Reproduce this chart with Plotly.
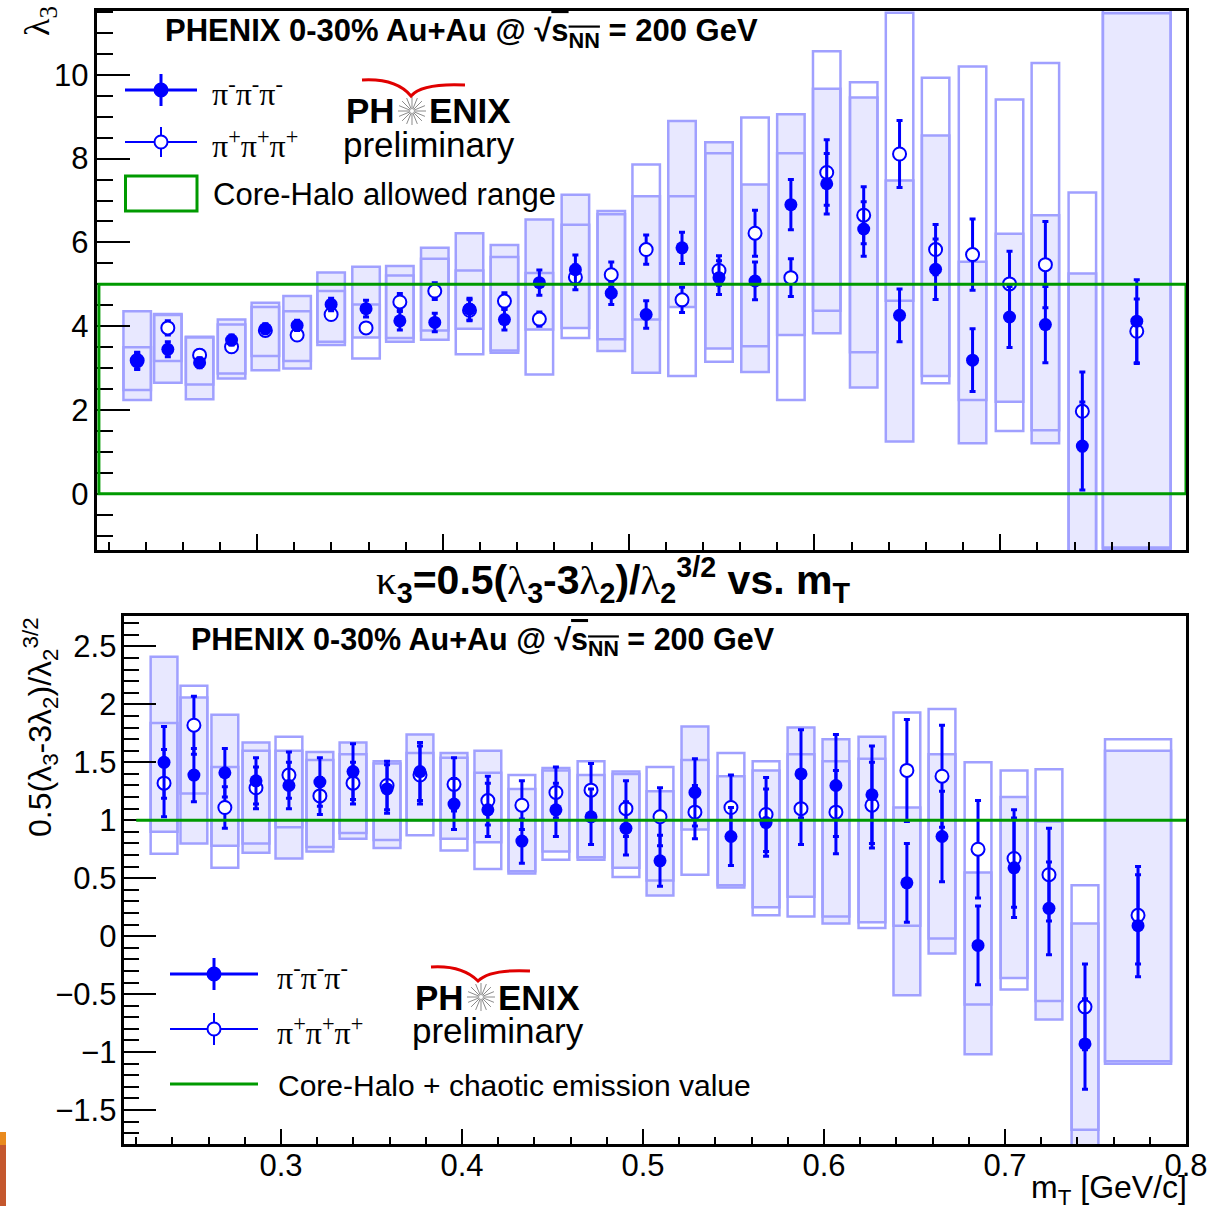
import math
import plotly.graph_objects as go

W, H = 1211, 1206

# ---------------- data ----------------
mt = [0.2354, 0.2519, 0.2690, 0.2862, 0.3044, 0.3215, 0.3398, 0.3586, 0.3768, 0.3956,
      0.4143, 0.4331, 0.4519, 0.4713, 0.4906, 0.5094, 0.5287, 0.5486, 0.5680, 0.5873,
      0.6066, 0.6265, 0.6458, 0.6652, 0.6851, 0.7050, 0.7243, 0.7442, 0.7735]
box_width = [0.0148] * 28 + [0.0365]

# lambda_3, pi- pi- pi- (filled)
l3_minus = [3.17, 3.45, 3.13, 3.67, 3.94, 4.02, 4.52, 4.42, 4.13, 4.09, 4.41, 4.16, 5.04, 5.35, 4.79,
            4.28, 5.87, 5.16, 5.08, 6.90, 7.40, 6.32, 4.26, 5.36, 3.19, 4.22, 4.04, 1.14, 4.12]
l3_minus_err = [0.20, 0.18, 0.12, 0.12, 0.12, 0.12, 0.15, 0.20, 0.22, 0.22, 0.26, 0.25, 0.30, 0.35, 0.27,
                0.33, 0.37, 0.40, 0.45, 0.60, 0.72, 0.65, 0.63, 0.72, 0.75, 0.73, 0.91, 1.05, 0.99]
l3_minus_sys_lo = [2.24, 2.65, 2.26, 2.75, 2.95, 2.99, 3.55, 3.73, 3.63, 3.68, 3.94, 3.37, 3.92, 3.96, 3.41,
                   2.89, 4.46, 3.47, 2.91, 3.79, 3.83, 2.54, 1.25, 2.81, 1.21, 2.20, 1.21, -1.45, -1.32]
l3_minus_sys_hi = [4.36, 4.29, 3.75, 4.16, 4.56, 4.72, 5.28, 5.42, 5.44, 5.87, 6.22, 5.94, 6.55, 7.14, 6.75,
                   7.10, 8.90, 8.39, 7.38, 9.06, 9.67, 9.46, 7.48, 8.55, 5.54, 6.21, 6.65, 5.26, 11.56]
# lambda_3, pi+ pi+ pi+ (open)
l3_plus = [3.18, 3.96, 3.31, 3.51, 3.90, 3.79, 4.28, 3.96, 4.58, 4.84, 4.38, 4.60, 4.17, 5.17, 5.23,
           5.83, 4.63, 5.33, 6.22, 5.16, 7.67, 6.65, 8.11, 5.83, 5.71, 5.01, 5.47, 1.97, 3.88]
l3_plus_err = [0.20, 0.17, 0.12, 0.12, 0.12, 0.12, 0.12, 0.12, 0.20, 0.20, 0.25, 0.20, 0.17, 0.30, 0.30,
               0.35, 0.30, 0.35, 0.55, 0.45, 0.78, 0.68, 0.80, 0.60, 0.85, 0.78, 1.03, 0.94, 0.77]
l3_plus_sys_lo = [2.48, 3.17, 2.61, 2.87, 3.29, 3.17, 3.63, 3.23, 3.72, 3.90, 3.33, 3.42, 2.85, 3.72, 3.69,
                  4.16, 2.81, 3.15, 3.52, 2.24, 4.37, 3.38, 4.61, 2.64, 2.24, 1.50, 1.52, -1.40, -1.28]
l3_plus_sys_hi = [3.50, 4.27, 3.73, 4.04, 4.46, 4.36, 4.84, 4.52, 5.21, 5.61, 5.33, 5.65, 5.27, 6.42, 6.67,
                  7.86, 7.10, 8.13, 8.98, 8.13, 10.56, 9.82, 11.48, 9.93, 10.20, 9.41, 10.28, 7.19, 11.47]

# kappa_3, pi- pi- pi- (filled)
k3_minus = [1.50, 1.39, 1.41, 1.34, 1.30, 1.33, 1.42, 1.27, 1.42, 1.14, 1.09, 0.82, 1.09, 1.03, 0.93,
            0.65, 1.24, 0.86, 0.98, 1.40, 1.30, 1.22, 0.46, 0.86, -0.08, 0.59, 0.24, -0.93, 0.09]
k3_minus_err = [0.31, 0.23, 0.21, 0.20, 0.20, 0.21, 0.24, 0.21, 0.25, 0.22, 0.23, 0.19, 0.23, 0.24, 0.23,
                0.22, 0.29, 0.25, 0.29, 0.38, 0.44, 0.42, 0.34, 0.39, 0.34, 0.43, 0.40, 0.39, 0.44]
k3_minus_sys_lo = [0.90, 0.80, 0.78, 0.72, 0.67, 0.73, 0.84, 0.76, 1.00, 0.84, 0.81, 0.54, 0.73, 0.66, 0.59,
                   0.35, 0.92, 0.42, 0.25, 0.34, 0.11, 0.12, -0.51, -0.15, -1.02, -0.36, -0.72, -1.90, -1.10]
k3_minus_sys_hi = [2.41, 2.06, 1.91, 1.67, 1.60, 1.59, 1.67, 1.51, 1.74, 1.58, 1.60, 1.27, 1.45, 1.39, 1.42,
                   1.25, 1.81, 1.38, 1.43, 1.80, 1.70, 1.72, 1.11, 1.57, 0.55, 1.20, 0.99, 0.11, 1.60]
# kappa_3, pi+ pi+ pi+ (open)
k3_plus = [1.32, 1.82, 1.11, 1.28, 1.39, 1.21, 1.32, 1.30, 1.39, 1.31, 1.17, 1.13, 1.24, 1.26, 1.10,
           1.03, 1.07, 1.11, 1.05, 1.10, 1.07, 1.13, 1.43, 1.38, 0.75, 0.67, 0.53, -0.61, 0.18]
k3_plus_err = [0.29, 0.25, 0.18, 0.18, 0.20, 0.16, 0.18, 0.21, 0.25, 0.23, 0.21, 0.21, 0.22, 0.23, 0.24,
               0.25, 0.23, 0.28, 0.32, 0.31, 0.36, 0.37, 0.44, 0.44, 0.42, 0.42, 0.40, 0.37, 0.42]
k3_plus_sys_lo = [0.71, 1.23, 0.59, 0.80, 0.94, 0.77, 0.89, 0.83, 0.87, 0.74, 0.58, 0.56, 0.66, 0.68, 0.51,
                  0.48, 0.53, 0.44, 0.18, 0.17, 0.17, 0.07, 0.09, -0.02, -0.59, -0.46, -0.56, -1.67, -1.08]
k3_plus_sys_hi = [1.84, 2.16, 1.46, 1.60, 1.72, 1.52, 1.57, 1.49, 1.58, 1.54, 1.41, 1.39, 1.43, 1.51, 1.40,
                  1.46, 1.52, 1.58, 1.51, 1.57, 1.51, 1.53, 1.93, 1.96, 1.50, 1.43, 1.44, 0.44, 1.70]

core_halo_range = [0, 5]
chaotic_value = 1
x_range = [0.2135, 0.8]
x_green_start = 0.22

# ---------------- style ----------------
BLUE = "#0000ff"
BOX_FILL = "rgb(232,232,255)"
BOX_EDGE = "rgb(160,160,255)"
GREEN = "#009a00"
SANS = "Liberation Sans, Arial, sans-serif"
SERIF = "Liberation Serif, Times New Roman, serif"


def px(x):
    return x / W


def py(y):
    return 1 - y / H


fig = go.Figure()


def add_panel(xa, ya, vm, em, mlo, mhi, vp, ep, plo, phi):
    fig.add_trace(go.Bar(x=mt, base=mlo, y=[h - l for l, h in zip(mlo, mhi)], width=box_width,
                         marker=dict(color=BOX_FILL, line=dict(color=BOX_EDGE, width=2.5)),
                         xaxis=xa, yaxis=ya, showlegend=False, hoverinfo="skip"))
    fig.add_trace(go.Bar(x=mt, base=plo, y=[h - l for l, h in zip(plo, phi)], width=box_width,
                         marker=dict(color="rgba(0,0,0,0)", line=dict(color=BOX_EDGE, width=2.5)),
                         xaxis=xa, yaxis=ya, showlegend=False, hoverinfo="skip"))
    fig.add_trace(go.Scatter(x=mt, y=vp, mode="markers", xaxis=xa, yaxis=ya, showlegend=False,
                             marker=dict(symbol="circle", size=13, color="white",
                                         line=dict(color=BLUE, width=2)),
                             error_y=dict(type="data", array=ep, color=BLUE, thickness=3, width=3)))
    fig.add_trace(go.Scatter(x=mt, y=vm, mode="markers", xaxis=xa, yaxis=ya, showlegend=False,
                             marker=dict(symbol="circle", size=13, color=BLUE, line=dict(width=0)),
                             error_y=dict(type="data", array=em, color=BLUE, thickness=3, width=3)))


add_panel("x", "y", l3_minus, l3_minus_err, l3_minus_sys_lo, l3_minus_sys_hi,
          l3_plus, l3_plus_err, l3_plus_sys_lo, l3_plus_sys_hi)
add_panel("x2", "y2", k3_minus, k3_minus_err, k3_minus_sys_lo, k3_minus_sys_hi,
          k3_plus, k3_plus_err, k3_plus_sys_lo, k3_plus_sys_hi)

axis_common = dict(showgrid=False, zeroline=False, showline=True, linecolor="black", linewidth=2.5,
                   mirror=True, ticks="inside", tickcolor="black", tickwidth=2, automargin=False)

fig.update_layout(
    width=W, height=H, margin=dict(l=0, r=0, t=0, b=0, pad=0, autoexpand=False),
    paper_bgcolor="white", plot_bgcolor="white", barmode="overlay", showlegend=False,
    font=dict(family=SANS, color="black"),
    xaxis=dict(domain=[96.5 / W, 1186 / W], anchor="y", range=x_range, tick0=0, dtick=0.1,
               ticklen=16, showticklabels=False,
               minor=dict(dtick=0.02, ticklen=8, tickwidth=2, ticks="inside", tickcolor="black"),
               **axis_common),
    yaxis=dict(domain=[py(550), py(10.7)], anchor="x", range=[-1.34, 11.53], tick0=0, dtick=2,
               ticklen=34, tickfont=dict(size=31, family=SANS), ticklabelstandoff=-1,
               minor=dict(dtick=0.5, ticklen=17, tickwidth=2, ticks="inside", tickcolor="black"),
               **axis_common),
    xaxis2=dict(domain=[124.4 / W, 1186 / W], anchor="y2", range=x_range, tick0=0, dtick=0.1,
                ticklen=16, tickfont=dict(size=31, family=SANS), ticklabelstandoff=-8,
                minor=dict(dtick=0.02, ticklen=8, tickwidth=2, ticks="inside", tickcolor="black"),
                **axis_common),
    yaxis2=dict(domain=[py(1144.3), py(616.4)], anchor="x2", range=[-1.796, 2.759], tick0=0, dtick=0.5,
                ticklen=32, tickfont=dict(size=31, family=SANS), ticklabelstandoff=-1,
                minor=dict(dtick=0.1, ticklen=15, tickwidth=2, ticks="inside", tickcolor="black"),
                **axis_common),
)

shapes = []
# core-halo allowed range (top) and chaotic value (bottom)
shapes.append(dict(type="rect", xref="x", yref="y", x0=0.2148, x1=x_range[1],
                   y0=core_halo_range[0], y1=core_halo_range[1],
                   line=dict(color=GREEN, width=3), layer="above"))
shapes.append(dict(type="line", xref="x2", yref="y2", x0=x_green_start, x1=x_range[1],
                   y0=chaotic_value, y1=chaotic_value, line=dict(color=GREEN, width=3), layer="above"))

ann = []


def text(x, y, t, size, xanchor="left", family=SANS, color="black", angle=0, yanchor="middle"):
    ann.append(dict(x=px(x), y=py(y), xref="paper", yref="paper", text=t, showarrow=False,
                    xanchor=xanchor, yanchor=yanchor, textangle=angle,
                    font=dict(size=size, family=family, color=color)))


sqrt_s = "√<span style='text-decoration:overline'>s<sub>NN</sub></span>"
header = "<b>PHENIX 0-30% Au+Au @ " + sqrt_s + " = 200 GeV</b>"
text(163, 33, header, 31)
text(189, 641, header, 30.5)

# axis titles
text(40, 21, "λ<sub>3</sub>", 36, xanchor="center", family=SERIF, angle=-90)
text(40, 727, "0.5(λ<sub>3</sub>-3λ<sub>2</sub>)/λ<sub>2</sub><sup>3/2</sup>", 32,
     xanchor="center", angle=-90)
text(1189, 1189, "m<sub>T</sub> [GeV/c]", 32, xanchor="right")

# main title
gk = "<span style='font-family:Liberation Serif;font-weight:normal'>%s</span>"
title = ("<b>" + gk % "κ" + "<sub>3</sub>=0.5(" + gk % "λ" + "<sub>3</sub>-3" + gk % "λ" +
         "<sub>2</sub>)/" + gk % "λ" + "<sub>2</sub><sup>3/2</sup> vs. m<sub>T</sub></b>")
text(613, 580, title, 41, xanchor="center")

# legends
pim = "π<sup>-</sup>π<sup>-</sup>π<sup>-</sup>"
pip = "π<sup>+</sup>π<sup>+</sup>π<sup>+</sup>"


def legend_marker(x0, x1, y, filled, vlen):
    cx = (x0 + x1) / 2
    shapes.append(dict(type="line", xref="paper", yref="paper", x0=px(x0), x1=px(x1), y0=py(y), y1=py(y),
                       line=dict(color=BLUE, width=3 if filled else 2)))
    shapes.append(dict(type="line", xref="paper", yref="paper", x0=px(cx), x1=px(cx),
                       y0=py(y - vlen), y1=py(y + vlen), line=dict(color=BLUE, width=3 if filled else 2)))
    r = 6.5
    shapes.append(dict(type="circle", xref="paper", yref="paper", x0=px(cx - r), x1=px(cx + r),
                       y0=py(y + r), y1=py(y - r),
                       fillcolor=BLUE if filled else "white", line=dict(color=BLUE, width=2)))


legend_marker(125, 197, 90, True, 16)
legend_marker(125, 197, 142, False, 15)
shapes.append(dict(type="rect", xref="paper", yref="paper", x0=px(125.5), x1=px(197), y0=py(211), y1=py(176),
                   line=dict(color=GREEN, width=3)))
text(210, 92, pim, 32, family=SERIF)
text(210, 144, pip, 32, family=SERIF)
text(211, 194, "Core-Halo allowed range", 31)

legend_marker(170, 258, 974, True, 16)
legend_marker(170, 258, 1029, False, 16)
shapes.append(dict(type="line", xref="paper", yref="paper", x0=px(170), x1=px(258), y0=py(1084), y1=py(1084),
                   line=dict(color=GREEN, width=3)))
text(275, 976, pim, 32, family=SERIF)
text(275, 1031, pip, 32, family=SERIF)
text(276, 1085, "Core-Halo + chaotic emission value", 30)


# PHENIX preliminary logos
def logo(cx, cy, swoosh):
    text(cx - 15, cy, "<b>PH</b>", 35, xanchor="right")
    text(cx + 15, cy, "<b>ENIX</b>", 35, xanchor="left")
    text(cx + 17, cy + 33, "preliminary", 35, xanchor="center")
    path = ""
    for k in range(16):
        a = k * math.pi / 8
        r1, r2 = 2.0, 14.0
        path += "M %.5f %.5f L %.5f %.5f " % (px(cx + r1 * math.cos(a)), py(cy + r1 * math.sin(a)),
                                              px(cx + r2 * math.cos(a)), py(cy + r2 * math.sin(a)))
    shapes.append(dict(type="path", xref="paper", yref="paper", path=path,
                       line=dict(color="#8a8a8a", width=1)))
    (sx0, sy0), (qx1, qy1), (vx, vy), (qx2, qy2), (ex, ey) = swoosh
    p = "M %.5f %.5f Q %.5f %.5f %.5f %.5f Q %.5f %.5f %.5f %.5f" % (
        px(sx0), py(sy0), px(qx1), py(qy1), px(vx), py(vy), px(qx2), py(qy2), px(ex), py(ey))
    shapes.append(dict(type="path", xref="paper", yref="paper", path=p, line=dict(color="#e00000", width=3)))


logo(412, 111, [(362, 80), (396, 78), (411, 96), (422, 83), (465, 85)])
logo(481, 997, [(431, 967), (462, 965), (478, 981), (490, 969), (530, 971)])

# slide decoration strip, bottom left
shapes.append(dict(type="rect", xref="paper", yref="paper", x0=0, x1=px(6), y0=py(1145), y1=py(1132),
                   fillcolor="#e98a1e", line=dict(width=0)))
shapes.append(dict(type="rect", xref="paper", yref="paper", x0=0, x1=px(6), y0=0, y1=py(1145),
                   fillcolor="#c4572e", line=dict(width=0)))

fig.update_layout(shapes=shapes, annotations=ann)
fig.write_html("out.html", config={"displayModeBar": False},
               post_script="document.body.style.margin='0';document.body.style.overflow='hidden';")
